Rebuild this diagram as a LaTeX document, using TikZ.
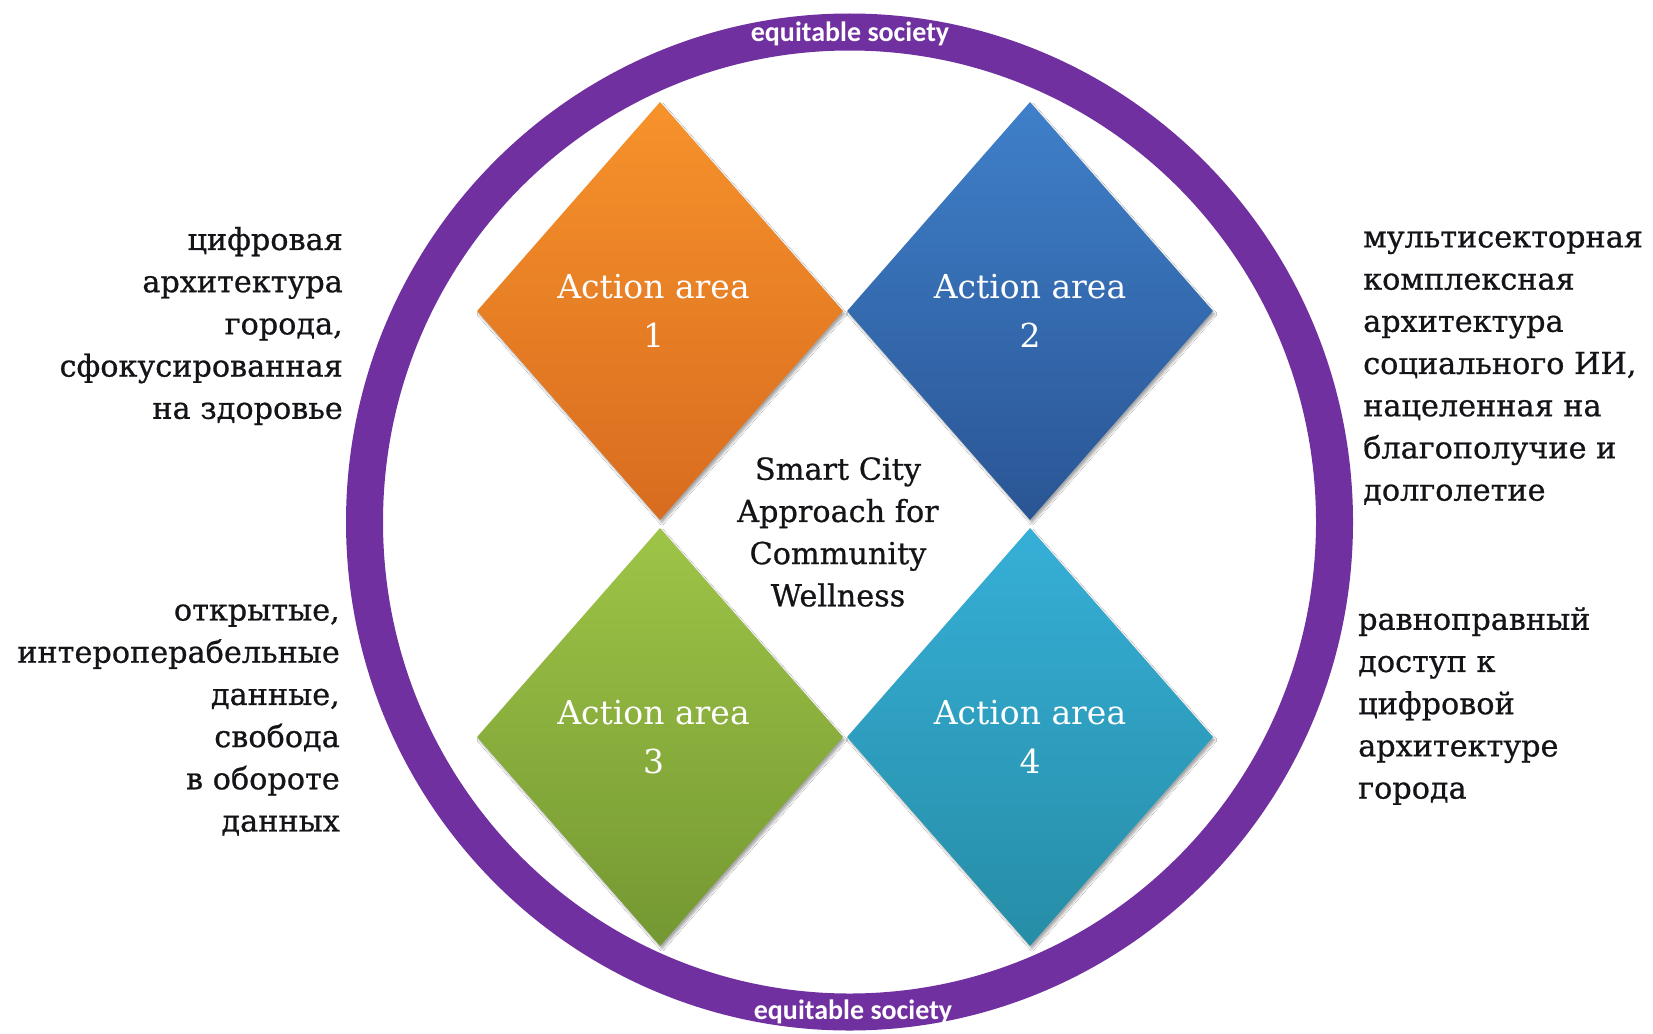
\documentclass[tikz,border=0pt]{standalone}
\usepackage{fontspec}
\setmainfont{DejaVu Serif}
\newfontfamily\heavyserif[FakeBold=0.7]{DejaVu Serif}
\newfontfamily\ringfont{Carlito}
\usetikzlibrary{shapes.geometric,shadows.blur}
\definecolor{ringpurple}{HTML}{7030A0}
\definecolor{orangeT}{HTML}{F7922B}
\definecolor{orangeB}{HTML}{D86C1F}
\definecolor{blueT}{HTML}{3F80CA}
\definecolor{blueB}{HTML}{2A5594}
\definecolor{greenT}{HTML}{9EC447}
\definecolor{greenB}{HTML}{749832}
\definecolor{cyanT}{HTML}{36AFD7}
\definecolor{cyanB}{HTML}{268DA6}
\definecolor{inktext}{HTML}{141418}
\tikzset{
  area/.style={diamond, minimum width=366pt, minimum height=418pt, inner sep=0pt,
    align=center, text=white, font=\fontsize{33}{49}\selectfont,
    blur shadow={shadow xshift=2pt, shadow yshift=-3pt, shadow blur steps=6, shadow opacity=35}},
  side/.style={text=inktext, inner sep=0pt, font=\heavyserif\fontsize{30.3}{42.2}\selectfont},
  ringlabel/.style={text=white, inner sep=0pt, font=\ringfont\bfseries\fontsize{28}{32}\selectfont},
  ringstyle/.style={ellipse, draw=ringpurple, line width=37pt, minimum width=970pt, minimum height=980pt, inner sep=0pt}
}
\begin{document}
\begin{tikzpicture}[x=1pt,y=-1pt]
\useasboundingbox (0,0) rectangle (1653,1033);
\fill[white] (0,0) rectangle (1653,1033);

\node[ringstyle] (ring) at (849.5,522) {};
\node[ringlabel] (eqtop) at (850,34) {equitable society};
\node[ringlabel] (eqbot) at (853,1012) {equitable society};

\node[area, top color=orangeT, bottom color=orangeB] (a1) at (660,311) {Action area\hspace*{13pt}\\1\hspace*{13pt}};
\node[area, top color=blueT, bottom color=blueB] (a2) at (1030,311) {Action area\\2};
\node[area, top color=greenT, bottom color=greenB] (a3) at (660,737) {Action area\hspace*{13pt}\\3\hspace*{13pt}};
\node[area, top color=cyanT, bottom color=cyanB] (a4) at (1030,737) {Action area\\4};

\node[side, align=center] (core) at (838,532) {Smart City\\Approach for\\Community\\Wellness};

\node[side, align=right, anchor=east] (t1) at (343,326) {цифровая\\архитектура\\города,\\сфокусированная\\на здоровье};
\node[side, align=right, anchor=east] (t3) at (340,720) {открытые,\\интероперабельные\\данные,\\свобода\\в обороте\\данных};
\node[side, align=left, anchor=west] (t2) at (1363,368) {мультисекторная\\комплексная\\архитектура\\социального ИИ,\\нацеленная на\\благополучие и\\долголетие};
\node[side, align=left, anchor=west] (t4) at (1358,706) {равноправный\\доступ к\\цифровой\\архитектуре\\города};
\end{tikzpicture}
\end{document}
